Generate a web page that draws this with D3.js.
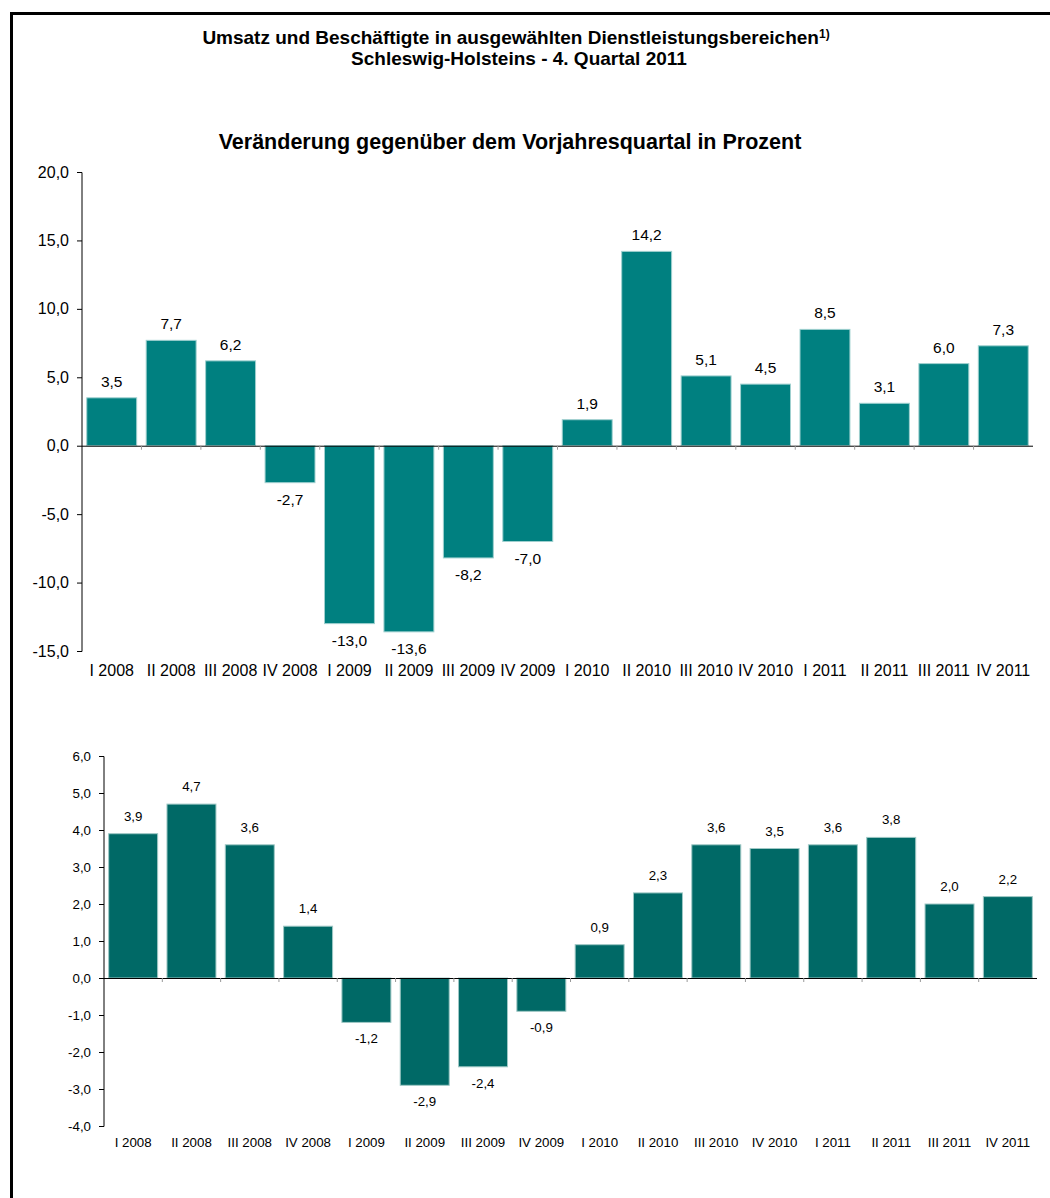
<!DOCTYPE html>
<html><head><meta charset="utf-8">
<script src="https://cdn.jsdelivr.net/npm/d3@7"></script>
<style>body{margin:0;background:#fff;}svg{display:block;font-family:"Liberation Sans",Arial,sans-serif;}</style>
</head><body>
<svg id="c" width="1050" height="1198"></svg>
<script>
const categories = ["I 2008","II 2008","III 2008","IV 2008","I 2009","II 2009","III 2009","IV 2009","I 2010","II 2010","III 2010","IV 2010","I 2011","II 2011","III 2011","IV 2011"];
const umsatz = [3.5,7.7,6.2,-2.7,-13.0,-13.6,-8.2,-7.0,1.9,14.2,5.1,4.5,8.5,3.1,6.0,7.3];
const beschaeftigte = [3.9,4.7,3.6,1.4,-1.2,-2.9,-2.4,-0.9,0.9,2.3,3.6,3.5,3.6,3.8,2.0,2.2];
const ticksTop = [-15,-10,-5,0,5,10,15,20];
const ticksBottom = [-4,-3,-2,-1,0,1,2,3,4,5,6];

const svg = d3.select("#c");
const FF = "'Liberation Sans', Arial, sans-serif";
const fmt = v => d3.format(".1f")(v).replace(".", ",").replace("−","-");

// frame
svg.append("line").attr("x1",10).attr("x2",1050).attr("y1",13.5).attr("y2",13.5).attr("stroke","#000").attr("stroke-width",3);
svg.append("line").attr("x1",11.5).attr("x2",11.5).attr("y1",12).attr("y2",1198).attr("stroke","#000").attr("stroke-width",3);

// titles
const t1 = svg.append("text").attr("x",516).attr("y",44).attr("text-anchor","middle").attr("font-size",19).attr("font-weight","bold");
t1.append("tspan").text("Umsatz und Beschäftigte in ausgewählten Dienstleistungsbereichen");
t1.append("tspan").attr("font-size",12).attr("dy",-6).text("1)");
svg.append("text").attr("x",519).attr("y",65).attr("text-anchor","middle").attr("font-size",19).attr("font-weight","bold").text("Schleswig-Holsteins - 4. Quartal 2011");
svg.append("text").attr("x",510).attr("y",149).attr("text-anchor","middle").attr("font-size",21.5).attr("font-weight","bold").text("Veränderung gegenüber dem Vorjahresquartal in Prozent");

function chart(cfg){
  const g = svg.append("g");
  const x = d3.scaleBand().domain(categories).range(cfg.xr).paddingInner(0.16).paddingOuter(0.08);
  const y = d3.scaleLinear().domain(cfg.yd).range(cfg.yr);
  g.selectAll("rect").data(cfg.values).join("rect")
    .attr("x",(d,i)=>x(categories[i]))
    .attr("width",x.bandwidth())
    .attr("y",d=>Math.min(y(d),y(0)))
    .attr("height",d=>Math.abs(y(d)-y(0)))
    .attr("fill",cfg.color).attr("stroke",cfg.stroke).attr("stroke-width",1);
  g.selectAll("text.v").data(cfg.values).join("text").attr("class","v")
    .attr("x",(d,i)=>x(categories[i])+x.bandwidth()/2)
    .attr("y",d=> d>=0 ? y(d)-cfg.lblGap : y(d)+cfg.lblGapNeg)
    .attr("text-anchor","middle").attr("font-size",cfg.vfs).attr("fill","#000")
    .text(d=>fmt(d));
  const ya = d3.axisLeft(y).tickValues(cfg.ticks).tickSize(5).tickPadding(8).tickFormat(fmt);
  const yg = g.append("g").attr("transform",`translate(${cfg.xr[0]},0)`).call(ya);
  yg.select(".domain").attr("stroke","#000").attr("d",`M-5,${cfg.yr[1]+0.5}H0V${cfg.yr[0]+0.5}H-5`);
  yg.selectAll("text").attr("font-size",cfg.fs).attr("fill","#000").attr("font-family",FF);
  g.append("line").attr("x1",cfg.xr[0]).attr("x2",cfg.xr[1]).attr("y1",y(0)+0.5).attr("y2",y(0)+0.5).attr("stroke","#000");
  g.selectAll("line.xt").data(categories.slice(1)).join("line").attr("class","xt")
    .attr("x1",d=>x(d)-x.step()*x.paddingInner()/2).attr("x2",d=>x(d)-x.step()*x.paddingInner()/2)
    .attr("y1",y(0)).attr("y2",y(0)+4).attr("stroke","#999");
  g.selectAll("text.xl").data(categories).join("text").attr("class","xl")
    .attr("x",d=>x(d)+x.bandwidth()/2).attr("y",cfg.xly)
    .attr("text-anchor","middle").attr("font-size",cfg.fs).attr("fill","#000").text(d=>d);
}

chart({values:umsatz, xr:[82,1033], yd:[-15,20], yr:[651,172], ticks:ticksTop, color:"#008080", stroke:"#9fd0cf", fs:16, vfs:15.5, lblGap:11, lblGapNeg:22, xly:676});
chart({values:beschaeftigte, xr:[104,1037], yd:[-4,6], yr:[1126,756], ticks:ticksBottom, color:"#006966", stroke:"#9fc8c5", fs:13.3, vfs:13.3, lblGap:13, lblGapNeg:21, xly:1147});
</script>
</body></html>
